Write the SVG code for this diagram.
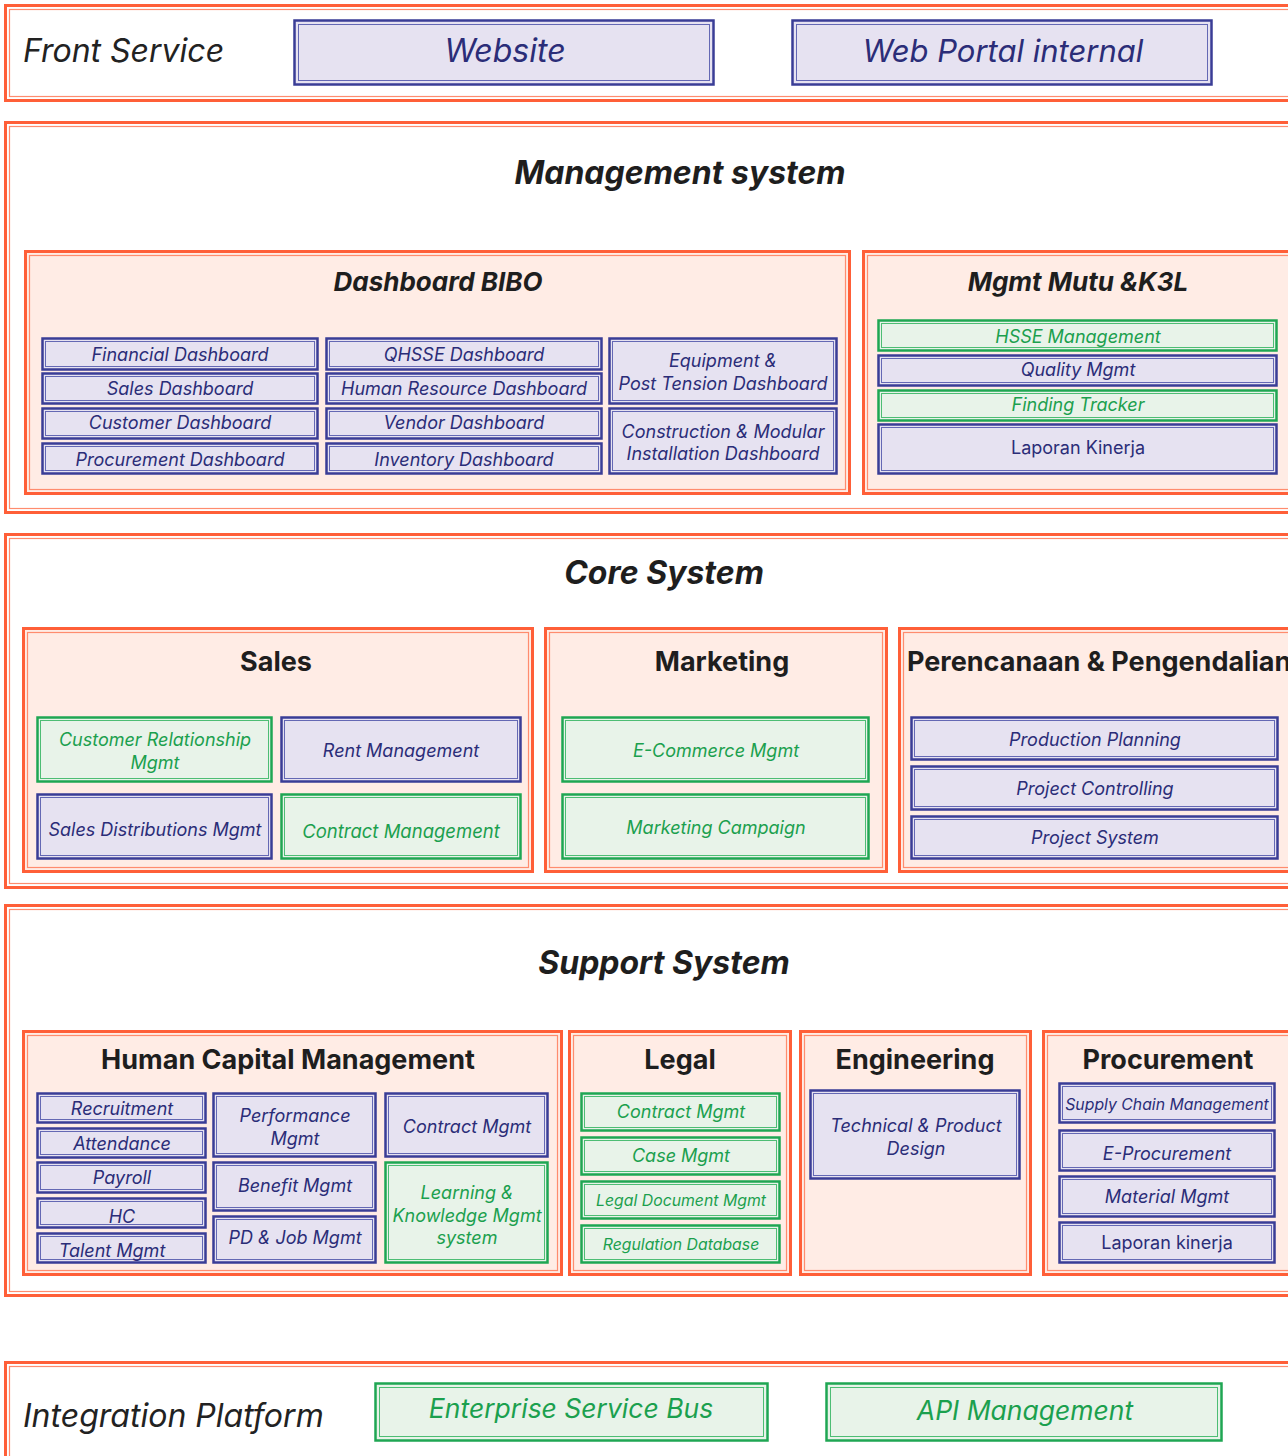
<svg xmlns="http://www.w3.org/2000/svg" width="1288" height="1456" viewBox="0 0 1288 1456">
<style>
text{font-family:Inter,"Noto Sans","Liberation Sans",sans-serif;text-anchor:middle}
.so{fill:#fff;stroke:#FF5F38;stroke-width:3}
.si{fill:none;stroke:#FF8C6E;stroke-width:1.2}
.po{fill:#FFECE5;stroke:#FF5F38;stroke-width:3}
.pi{fill:none;stroke:#FF8C6E;stroke-width:1.2}
.bo{fill:#E6E2F1;stroke:#3A3D96;stroke-width:2.5}
.bi{fill:none;stroke:#6468B4;stroke-width:1}
.go{fill:#E8F3E9;stroke:#1FA653;stroke-width:2.5}
.gi{fill:none;stroke:#4DBD74;stroke-width:1}
.bt{fill:#2B2D78;font-style:italic;font-size:18px}
.gt{fill:#1BA04E;font-style:italic;font-size:18px}
.up{font-style:normal}
.h1{fill:#1E1E1E;font-weight:700;font-style:italic;font-size:32px}
.h2{fill:#1E1E1E;font-weight:700;font-style:italic;font-size:26px}
.h3{fill:#1E1E1E;font-weight:700;font-size:27px}
.lab{fill:#222;font-style:italic;text-anchor:start;font-size:32px}
.big{font-size:32px}
.mid{font-size:26.5px}
.sm{font-size:15.8px}
</style>

<!-- Sections -->
<g id="front-service">
<rect class="so" x="5.5" y="5.5" width="1300" height="95"/>
<rect class="si" x="9.5" y="9.5" width="1300" height="87"/>
<text class="lab" x="23" y="62">Front Service</text>
</g>
<g id="management-system">
<rect class="so" x="5.5" y="122.5" width="1300" height="390"/>
<rect class="si" x="9.5" y="126.5" width="1300" height="382"/>
<text class="h1" x="680" y="184">Management system</text>
</g>
<g id="core-system">
<rect class="so" x="5.5" y="534.5" width="1300" height="353"/>
<rect class="si" x="9.5" y="538.5" width="1300" height="345"/>
<text class="h1" x="664" y="584">Core System</text>
</g>
<g id="support-system">
<rect class="so" x="5.5" y="905.5" width="1300" height="390"/>
<rect class="si" x="9.5" y="909.5" width="1300" height="382"/>
<text class="h1" x="664" y="974">Support System</text>
</g>
<g id="integration-platform">
<rect class="so" x="5.5" y="1362.5" width="1300" height="120"/>
<rect class="si" x="9.5" y="1366.5" width="1300" height="120"/>
<text class="lab" x="23" y="1427">Integration Platform</text>
</g>

<!-- Front service nodes -->
<g id="website"><rect class="bo" x="294.5" y="20.5" width="419" height="64"/><rect class="bi" x="298.5" y="24.5" width="411" height="56"/><text class="bt big" x="505" y="62">Website</text></g>
<g id="web-portal"><rect class="bo" x="792.5" y="20.5" width="419" height="64"/><rect class="bi" x="796.5" y="24.5" width="411" height="56"/><text class="bt" style="font-size:31px" x="1003" y="62">Web Portal internal</text></g>

<!-- Dashboard BIBO -->
<g id="dashboard-bibo">
<rect class="po" x="25.5" y="251.5" width="824" height="242"/>
<rect class="pi" x="29.5" y="255.5" width="816" height="234"/>
<text class="h2" x="438" y="291">Dashboard BIBO</text>
</g>
<g id="financial-dashboard"><rect class="bo" x="42.5" y="338.5" width="275" height="31"/><rect class="bi" x="45.5" y="341.5" width="269" height="25"/><text class="bt" x="180" y="361">Financial Dashboard</text></g>
<g id="sales-dashboard"><rect class="bo" x="42.5" y="373.5" width="275" height="30"/><rect class="bi" x="45.5" y="376.5" width="269" height="24"/><text class="bt" x="180" y="395">Sales Dashboard</text></g>
<g id="customer-dashboard"><rect class="bo" x="42.5" y="408.5" width="275" height="30"/><rect class="bi" x="45.5" y="411.5" width="269" height="24"/><text class="bt" x="180" y="429">Customer Dashboard</text></g>
<g id="procurement-dashboard"><rect class="bo" x="42.5" y="443.5" width="275" height="30"/><rect class="bi" x="45.5" y="446.5" width="269" height="24"/><text class="bt" x="180" y="466">Procurement Dashboard</text></g>
<g id="qhsse-dashboard"><rect class="bo" x="326.5" y="338.5" width="275" height="31"/><rect class="bi" x="329.5" y="341.5" width="269" height="25"/><text class="bt" x="464" y="361">QHSSE Dashboard</text></g>
<g id="hr-dashboard"><rect class="bo" x="326.5" y="373.5" width="275" height="30"/><rect class="bi" x="329.5" y="376.5" width="269" height="24"/><text class="bt" x="464" y="395">Human Resource Dashboard</text></g>
<g id="vendor-dashboard"><rect class="bo" x="326.5" y="408.5" width="275" height="30"/><rect class="bi" x="329.5" y="411.5" width="269" height="24"/><text class="bt" x="464" y="429">Vendor Dashboard</text></g>
<g id="inventory-dashboard"><rect class="bo" x="326.5" y="443.5" width="275" height="30"/><rect class="bi" x="329.5" y="446.5" width="269" height="24"/><text class="bt" x="464" y="466">Inventory Dashboard</text></g>
<g id="equipment-dashboard"><rect class="bo" x="609.5" y="338.5" width="227" height="65"/><rect class="bi" x="612.5" y="341.5" width="221" height="59"/><text class="bt" x="723" y="367">Equipment &amp;</text><text class="bt" x="723" y="390">Post Tension Dashboard</text></g>
<g id="construction-dashboard"><rect class="bo" x="609.5" y="408.5" width="227" height="65"/><rect class="bi" x="612.5" y="411.5" width="221" height="59"/><text class="bt" x="723" y="438">Construction &amp; Modular</text><text class="bt" x="723" y="460">Installation Dashboard</text></g>

<!-- Mgmt Mutu & K3L -->
<g id="mgmt-mutu">
<rect class="po" x="863.5" y="251.5" width="440" height="242"/>
<rect class="pi" x="867.5" y="255.5" width="440" height="234"/>
<text class="h2" x="1078" y="291">Mgmt Mutu &amp;K3L</text>
</g>
<g id="hsse-management"><rect class="go" x="878.5" y="320.5" width="398" height="30"/><rect class="gi" x="881.5" y="323.5" width="392" height="24"/><text class="gt" x="1078" y="343">HSSE Management</text></g>
<g id="quality-mgmt"><rect class="bo" x="878.5" y="355.5" width="398" height="30"/><rect class="bi" x="881.5" y="358.5" width="392" height="24"/><text class="bt" x="1078" y="376">Quality Mgmt</text></g>
<g id="finding-tracker"><rect class="go" x="878.5" y="390.5" width="398" height="30"/><rect class="gi" x="881.5" y="393.5" width="392" height="24"/><text class="gt" x="1078" y="411">Finding Tracker</text></g>
<g id="laporan-kinerja-mutu"><rect class="bo" x="878.5" y="424.5" width="398" height="49"/><rect class="bi" x="881.5" y="427.5" width="392" height="43"/><text class="bt up" x="1078" y="454">Laporan Kinerja</text></g>

<!-- Sales -->
<g id="sales">
<rect class="po" x="23.5" y="628.5" width="509" height="243"/>
<rect class="pi" x="27.5" y="632.5" width="501" height="235"/>
<text class="h3" x="276" y="671">Sales</text>
</g>
<g id="crm"><rect class="go" x="37.5" y="717.5" width="234" height="64"/><rect class="gi" x="40.5" y="720.5" width="228" height="58"/><text class="gt" x="155" y="746">Customer Relationship</text><text class="gt" x="155" y="769">Mgmt</text></g>
<g id="rent-management"><rect class="bo" x="281.5" y="717.5" width="239" height="64"/><rect class="bi" x="284.5" y="720.5" width="233" height="58"/><text class="bt" x="401" y="757">Rent Management</text></g>
<g id="sales-distributions"><rect class="bo" x="37.5" y="794.5" width="234" height="64"/><rect class="bi" x="40.5" y="797.5" width="228" height="58"/><text class="bt" x="155" y="836">Sales Distributions Mgmt</text></g>
<g id="contract-management"><rect class="go" x="281.5" y="794.5" width="239" height="64"/><rect class="gi" x="284.5" y="797.5" width="233" height="58"/><text class="gt" style="font-size:18.5px" x="401" y="838">Contract Management</text></g>

<!-- Marketing -->
<g id="marketing">
<rect class="po" x="545.5" y="628.5" width="341" height="243"/>
<rect class="pi" x="549.5" y="632.5" width="333" height="235"/>
<text class="h3" x="722" y="671">Marketing</text>
</g>
<g id="ecommerce"><rect class="go" x="562.5" y="717.5" width="306" height="64"/><rect class="gi" x="565.5" y="720.5" width="300" height="58"/><text class="gt" x="716" y="757">E-Commerce Mgmt</text></g>
<g id="marketing-campaign"><rect class="go" x="562.5" y="794.5" width="306" height="64"/><rect class="gi" x="565.5" y="797.5" width="300" height="58"/><text class="gt" x="716" y="834">Marketing Campaign</text></g>

<!-- Perencanaan & Pengendalian -->
<g id="perencanaan">
<rect class="po" x="899.5" y="628.5" width="410" height="243"/>
<rect class="pi" x="903.5" y="632.5" width="410" height="235"/>
<text class="h3" x="907" y="671" style="text-anchor:start">Perencanaan &amp; Pengendalian</text>
</g>
<g id="production-planning"><rect class="bo" x="911.5" y="717.5" width="366" height="42"/><rect class="bi" x="914.5" y="720.5" width="360" height="36"/><text class="bt" x="1095" y="746">Production Planning</text></g>
<g id="project-controlling"><rect class="bo" x="911.5" y="766.5" width="366" height="43"/><rect class="bi" x="914.5" y="769.5" width="360" height="37"/><text class="bt" x="1095" y="795">Project Controlling</text></g>
<g id="project-system"><rect class="bo" x="911.5" y="816.5" width="366" height="42"/><rect class="bi" x="914.5" y="819.5" width="360" height="36"/><text class="bt" x="1095" y="844">Project System</text></g>

<!-- Human Capital Management -->
<g id="hcm">
<rect class="po" x="23.5" y="1031.5" width="538" height="243"/>
<rect class="pi" x="27.5" y="1035.5" width="530" height="235"/>
<text class="h3" x="288" y="1069">Human Capital Management</text>
</g>
<g id="recruitment"><rect class="bo" x="37.5" y="1093.5" width="168" height="29"/><rect class="bi" x="40.5" y="1096.5" width="162" height="23"/><text class="bt" x="122" y="1115">Recruitment</text></g>
<g id="attendance"><rect class="bo" x="37.5" y="1128.5" width="168" height="29"/><rect class="bi" x="40.5" y="1131.5" width="162" height="23"/><text class="bt" x="122" y="1150">Attendance</text></g>
<g id="payroll"><rect class="bo" x="37.5" y="1162.5" width="168" height="30"/><rect class="bi" x="40.5" y="1165.5" width="162" height="24"/><text class="bt" x="122" y="1184">Payroll</text></g>
<g id="hc"><rect class="bo" x="37.5" y="1198.5" width="168" height="29"/><rect class="bi" x="40.5" y="1201.5" width="162" height="23"/><text class="bt" x="122" y="1223">HC</text></g>
<g id="talent-mgmt"><rect class="bo" x="37.5" y="1233.5" width="168" height="29"/><rect class="bi" x="40.5" y="1236.5" width="162" height="23"/><text class="bt" x="112" y="1257">Talent Mgmt</text></g>
<g id="performance-mgmt"><rect class="bo" x="213.5" y="1093.5" width="162" height="63"/><rect class="bi" x="216.5" y="1096.5" width="156" height="57"/><text class="bt" x="295" y="1122">Performance</text><text class="bt" x="295" y="1145">Mgmt</text></g>
<g id="benefit-mgmt"><rect class="bo" x="213.5" y="1162.5" width="162" height="48"/><rect class="bi" x="216.5" y="1165.5" width="156" height="42"/><text class="bt" x="295" y="1192">Benefit Mgmt</text></g>
<g id="pd-job-mgmt"><rect class="bo" x="213.5" y="1216.5" width="162" height="46"/><rect class="bi" x="216.5" y="1219.5" width="156" height="40"/><text class="bt" x="295" y="1244">PD &amp; Job Mgmt</text></g>
<g id="contract-mgmt-hcm"><rect class="bo" x="385.5" y="1093.5" width="162" height="63"/><rect class="bi" x="388.5" y="1096.5" width="156" height="57"/><text class="bt" x="467" y="1133">Contract Mgmt</text></g>
<g id="learning-knowledge"><rect class="go" x="385.5" y="1162.5" width="162" height="100"/><rect class="gi" x="388.5" y="1165.5" width="156" height="94"/><text class="gt" x="467" y="1199">Learning &amp;</text><text class="gt" x="467" y="1222">Knowledge Mgmt</text><text class="gt" x="467" y="1244">system</text></g>

<!-- Legal -->
<g id="legal">
<rect class="po" x="569.5" y="1031.5" width="221" height="243"/>
<rect class="pi" x="573.5" y="1035.5" width="213" height="235"/>
<text class="h3" x="680" y="1069">Legal</text>
</g>
<g id="contract-mgmt-legal"><rect class="go" x="581.5" y="1093.5" width="198" height="37"/><rect class="gi" x="584.5" y="1096.5" width="192" height="31"/><text class="gt" x="681" y="1118">Contract Mgmt</text></g>
<g id="case-mgmt"><rect class="go" x="581.5" y="1137.5" width="198" height="37"/><rect class="gi" x="584.5" y="1140.5" width="192" height="31"/><text class="gt" x="681" y="1162">Case Mgmt</text></g>
<g id="legal-document-mgmt"><rect class="go" x="581.5" y="1181.5" width="198" height="37"/><rect class="gi" x="584.5" y="1184.5" width="192" height="31"/><text class="gt sm" x="681" y="1206">Legal Document Mgmt</text></g>
<g id="regulation-database"><rect class="go" x="581.5" y="1225.5" width="198" height="37"/><rect class="gi" x="584.5" y="1228.5" width="192" height="31"/><text class="gt sm" x="681" y="1250">Regulation Database</text></g>

<!-- Engineering -->
<g id="engineering">
<rect class="po" x="800.5" y="1031.5" width="230" height="243"/>
<rect class="pi" x="804.5" y="1035.5" width="222" height="235"/>
<text class="h3" x="915" y="1069">Engineering</text>
</g>
<g id="technical-product-design"><rect class="bo" x="810.5" y="1090.5" width="209" height="88"/><rect class="bi" x="813.5" y="1093.5" width="203" height="82"/><text class="bt" x="916" y="1132">Technical &amp; Product</text><text class="bt" x="916" y="1155">Design</text></g>

<!-- Procurement -->
<g id="procurement">
<rect class="po" x="1043.5" y="1031.5" width="260" height="243"/>
<rect class="pi" x="1047.5" y="1035.5" width="260" height="235"/>
<text class="h3" x="1168" y="1069">Procurement</text>
</g>
<g id="supply-chain"><rect class="bo" x="1059.5" y="1083.5" width="215" height="39"/><rect class="bi" x="1062.5" y="1086.5" width="209" height="33"/><text class="bt sm" x="1167" y="1110">Supply Chain Management</text></g>
<g id="e-procurement"><rect class="bo" x="1059.5" y="1130.5" width="215" height="40"/><rect class="bi" x="1062.5" y="1133.5" width="209" height="34"/><text class="bt" x="1167" y="1160">E-Procurement</text></g>
<g id="material-mgmt"><rect class="bo" x="1059.5" y="1176.5" width="215" height="40"/><rect class="bi" x="1062.5" y="1179.5" width="209" height="34"/><text class="bt" x="1167" y="1203">Material Mgmt</text></g>
<g id="laporan-kinerja-proc"><rect class="bo" x="1059.5" y="1222.5" width="215" height="40"/><rect class="bi" x="1062.5" y="1225.5" width="209" height="34"/><text class="bt up" x="1167" y="1249">Laporan kinerja</text></g>

<!-- Integration nodes -->
<g id="esb"><rect class="go" x="375.5" y="1383.5" width="392" height="57"/><rect class="gi" x="379.5" y="1387.5" width="384" height="49"/><text class="gt mid" x="571" y="1418">Enterprise Service Bus</text></g>
<g id="api-management"><rect class="go" x="826.5" y="1383.5" width="395" height="57"/><rect class="gi" x="830.5" y="1387.5" width="387" height="49"/><text class="gt mid" x="1025" y="1420">API Management</text></g>

<g id="connectors"></g>
</svg>
